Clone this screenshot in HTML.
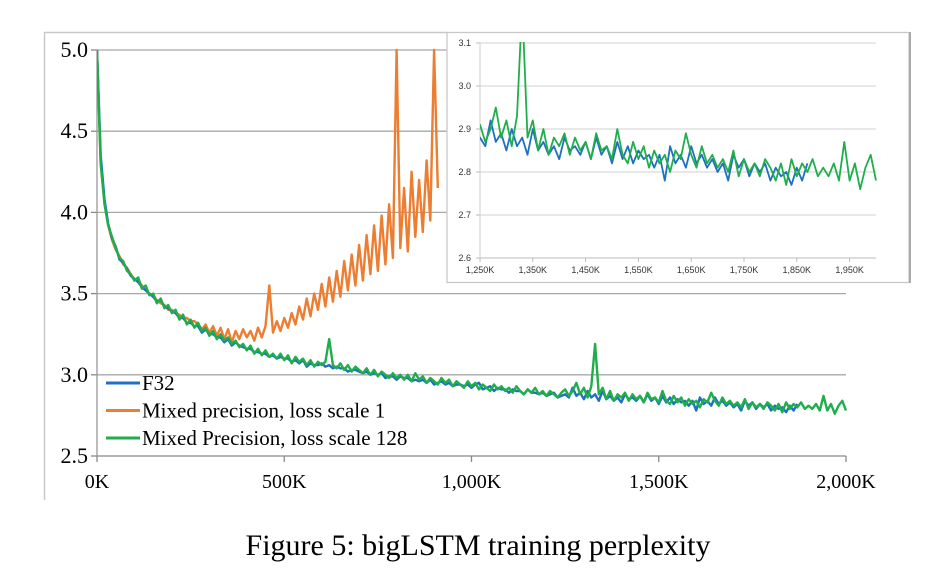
<!DOCTYPE html>
<html><head><meta charset="utf-8"><style>
html,body{margin:0;padding:0;background:#fff;width:934px;height:570px;overflow:hidden}
svg{display:block}
</style></head><body>
<svg id="c" width="934" height="570" xmlns="http://www.w3.org/2000/svg">
<defs>
<clipPath id="mainClip"><rect x="97" y="48" width="752" height="410"/></clipPath>
<clipPath id="insetClip"><rect x="480" y="42" width="398" height="218"/></clipPath>
</defs>
<g id="main"></g>
<g id="inset"></g>
<g id="legend"></g>
<text x="478" y="555" text-anchor="middle" font-family="Liberation Serif, serif" font-size="30" fill="#000">Figure 5: bigLSTM training perplexity</text>
</svg>
<script>
// x values are in thousands of steps, one sample every 10K
const stepK = 10;
const f32Values = [5.0,4.35,4.08,3.93,3.84,3.79,3.71,3.69,3.65,3.61,3.59,3.57,3.54,3.52,3.50,3.48,3.45,3.46,3.42,3.41,3.39,3.38,3.35,3.35,3.32,3.32,3.30,3.30,3.26,3.28,3.25,3.25,3.23,3.23,3.20,3.22,3.18,3.20,3.18,3.17,3.16,3.16,3.14,3.14,3.13,3.13,3.11,3.12,3.10,3.11,3.10,3.10,3.08,3.09,3.07,3.09,3.05,3.07,3.06,3.06,3.07,3.05,3.06,3.04,3.05,3.04,3.04,3.02,3.03,3.03,3.02,3.01,3.02,3.00,3.01,3.00,3.01,2.98,2.99,2.99,2.97,2.99,2.98,2.98,2.96,2.97,2.96,2.97,2.95,2.97,2.94,2.95,2.96,2.94,2.95,2.93,2.94,2.94,2.93,2.94,2.92,2.94,2.95,2.91,2.92,2.93,2.90,2.92,2.91,2.91,2.89,2.91,2.90,2.90,2.88,2.91,2.89,2.89,2.88,2.89,2.87,2.88,2.89,2.86,2.87,2.88,2.86,2.92,2.87,2.89,2.85,2.90,2.86,2.88,2.84,2.90,2.85,2.87,2.84,2.86,2.83,2.88,2.85,2.86,2.84,2.87,2.83,2.88,2.84,2.86,2.82,2.87,2.83,2.86,2.82,2.85,2.83,2.84,2.81,2.84,2.78,2.86,2.82,2.84,2.81,2.86,2.82,2.84,2.81,2.83,2.80,2.82,2.78,2.84,2.81,2.83,2.79,2.82,2.80,2.82,2.78,2.81,2.79,2.80,2.77,2.81,2.78,2.82];
const mp1Values = [5.0,4.3,4.06,3.92,3.83,3.77,3.73,3.68,3.66,3.62,3.59,3.58,3.55,3.52,3.50,3.49,3.46,3.44,3.43,3.40,3.40,3.38,3.37,3.35,3.35,3.33,3.33,3.31,3.28,3.31,3.26,3.30,3.24,3.29,3.22,3.28,3.20,3.27,3.22,3.28,3.23,3.27,3.21,3.29,3.23,3.30,3.55,3.26,3.33,3.27,3.35,3.29,3.38,3.31,3.42,3.34,3.47,3.36,3.50,3.40,3.56,3.42,3.60,3.45,3.64,3.48,3.70,3.52,3.74,3.55,3.80,3.58,3.86,3.62,3.92,3.64,3.98,3.68,4.05,3.72,5.0,3.78,4.15,3.76,4.25,3.85,4.20,3.88,4.32,3.95,5.0,4.15];
const mp128Values = [5.0,4.3,4.05,3.92,3.85,3.78,3.72,3.70,3.64,3.62,3.58,3.60,3.53,3.55,3.49,3.50,3.44,3.47,3.41,3.43,3.38,3.40,3.34,3.37,3.31,3.34,3.29,3.32,3.27,3.29,3.24,3.27,3.22,3.25,3.21,3.23,3.19,3.21,3.17,3.19,3.15,3.18,3.13,3.16,3.12,3.15,3.11,3.13,3.10,3.13,3.09,3.12,3.07,3.11,3.08,3.10,3.06,3.09,3.05,3.08,3.06,3.08,3.22,3.06,3.04,3.07,3.03,3.06,3.02,3.05,3.03,3.01,3.04,3.00,3.03,2.99,3.02,3.00,2.98,3.01,2.98,3.00,2.97,3.00,2.96,3.01,2.97,2.99,2.95,2.98,2.96,2.94,2.98,2.95,2.97,2.93,2.96,2.94,2.92,2.96,2.93,2.95,2.91,2.94,2.92,2.90,2.94,2.91,2.93,2.90,2.92,2.89,2.93,2.90,2.88,2.91,2.89,2.92,2.88,2.90,2.87,2.90,2.88,2.86,2.89,2.91,2.87,2.90,2.95,2.88,2.92,2.86,2.93,3.19,2.88,2.92,2.85,2.90,2.84,2.88,2.86,2.89,2.84,2.88,2.85,2.87,2.83,2.89,2.85,2.86,2.83,2.90,2.84,2.82,2.87,2.83,2.86,2.81,2.85,2.82,2.84,2.80,2.85,2.83,2.89,2.84,2.81,2.86,2.82,2.84,2.81,2.83,2.80,2.85,2.79,2.83,2.80,2.82,2.79,2.83,2.81,2.78,2.82,2.77,2.83,2.79,2.82,2.80,2.83,2.79,2.81,2.79,2.82,2.78,2.87,2.78,2.82,2.76,2.81,2.84,2.78];
const mainYTicks = [2.5,3.0,3.5,4.0,4.5,5.0];
const mainXTicks = [0,500,1000,1500,2000];
const mainXLabels = ["0K","500K","1,000K","1,500K","2,000K"];
const insetYTicks = [2.6,2.7,2.8,2.9,3.0,3.1];
const insetXTicks = [1250,1350,1450,1550,1650,1750,1850,1950];
const insetXLabels = ["1,250K","1,350K","1,450K","1,550K","1,650K","1,750K","1,850K","1,950K"];
const seriesNames = ["F32","Mixed precision, loss scale 1","Mixed Precision, loss scale 128"];
const seriesColors = ["#1f6fc4","#ed7d31","#1fae4a"];

const NS = "http://www.w3.org/2000/svg";
function mk(tag, attrs, parent){const e=document.createElementNS(NS,tag);for(const k in attrs)e.setAttribute(k,attrs[k]);parent.appendChild(e);return e;}
const main = document.getElementById('main');
const inset = document.getElementById('inset');
const legend = document.getElementById('legend');

const mx = v => 97 + (v-0)/(2000-0)*(846-97);
const my = v => 456 - (v-2.5)/(5.0-2.5)*(456-50);
let fr = mk('path',{d:'M44.5,500 L44.5,32.5 L447,32.5',fill:'none',stroke:'#c8c8c8','stroke-width':1.5},main);
 
mainYTicks.forEach((t,i)=>{
  const y=my(t);
  const g=mk('line',{x1:97,x2:846,y1:y,y2:y,stroke:i===0?'#888':'#a8a8a8','stroke-width':1.3},main);
   
  const tk=mk('line',{x1:91,x2:97,y1:y,y2:y,stroke:'#888','stroke-width':1.3},main);
   
  const tx=mk('text',{x:88,y:y+7,'text-anchor':'end','font-family':'Liberation Serif, serif','font-size':22,fill:'#000'},main);
  tx.textContent=t.toFixed(1);
   
});
const ya=mk('line',{x1:97,x2:97,y1:50,y2:456,stroke:'#999','stroke-width':1.3},main);
 
mainXTicks.forEach((t,i)=>{
  const x=mx(t);
  const tk=mk('line',{x1:x,x2:x,y1:456,y2:462,stroke:'#888','stroke-width':1.3},main);
   
  const tx=mk('text',{x:x,y:488,'text-anchor':'middle','font-family':'Liberation Serif, serif','font-size':20,fill:'#000'},main);
  tx.textContent=mainXLabels[i];
   
});
function pathFor(vals, fx, fy){return vals.map((v,i)=>(i?'L':'M')+fx(i*stepK).toFixed(1)+','+fy(v).toFixed(1)).join(' ');}
const mainLines=mk('g',{'clip-path':'url(#mainClip)'},main);
const order=[1,0,2], data=[f32Values,mp1Values,mp128Values], names=['f32-line','mixed-scale1-line','mixed-scale128-line'];
order.forEach(k=>{
  const p=mk('path',{d:pathFor(data[k],mx,my),fill:'none',stroke:seriesColors[k],'stroke-width':2.4,'stroke-linejoin':'round'},mainLines);
   
});

const bg=mk('rect',{x:447,y:32.5,width:462,height:250,fill:'#fff',stroke:'#c8c8c8','stroke-width':1.3},inset);
 
const rb=mk('line',{x1:910,x2:910,y1:32,y2:283,stroke:'#aaa','stroke-width':2},inset);
 
const ix = v => 480 + (v-1250)/(2000-1250)*(876-480);
const iy = v => 258 - (v-2.6)/(3.1-2.6)*(258-43);
insetYTicks.forEach((t,i)=>{
  const y=iy(t);
  const g=mk('line',{x1:480,x2:876,y1:y,y2:y,stroke:i===0?'#bbb':'#d0d0d0','stroke-width':1},inset);
   
  const tk=mk('line',{x1:476,x2:480,y1:y,y2:y,stroke:'#bbb','stroke-width':1},inset);
   
  const tx=mk('text',{x:471,y:y+3,'text-anchor':'end','font-family':'Liberation Sans, sans-serif','font-size':9,fill:'#333'},inset);
  tx.textContent=t.toFixed(1);
   
});
const iya=mk('line',{x1:480,x2:480,y1:43,y2:258,stroke:'#ccc','stroke-width':1},inset);
 
insetXTicks.forEach((t,i)=>{
  const x=ix(t);
  const tk=mk('line',{x1:x,x2:x,y1:258,y2:262,stroke:'#bbb','stroke-width':1},inset);
   
  const tx=mk('text',{x:x,y:273,'text-anchor':'middle','font-family':'Liberation Sans, sans-serif','font-size':9,fill:'#333'},inset);
  tx.textContent=insetXLabels[i];
   
});
const insetLines=mk('g',{'clip-path':'url(#insetClip)'},inset);
[0,2].forEach(k=>{
  const p=mk('path',{d:pathFor(data[k],ix,iy),fill:'none',stroke:seriesColors[k],'stroke-width':1.8,'stroke-linejoin':'round'},insetLines);
   
});

seriesNames.forEach((n,i)=>{
  const y=383+i*27.5;
  const ln=mk('line',{x1:106,x2:140,y1:y,y2:y,stroke:seriesColors[i],'stroke-width':3},legend);
   
  const tx=mk('text',{x:142,y:y+7,'font-family':'Liberation Serif, serif','font-size':21,fill:'#000'},legend);
  tx.textContent=n;
   
});
</script>
</body></html>
